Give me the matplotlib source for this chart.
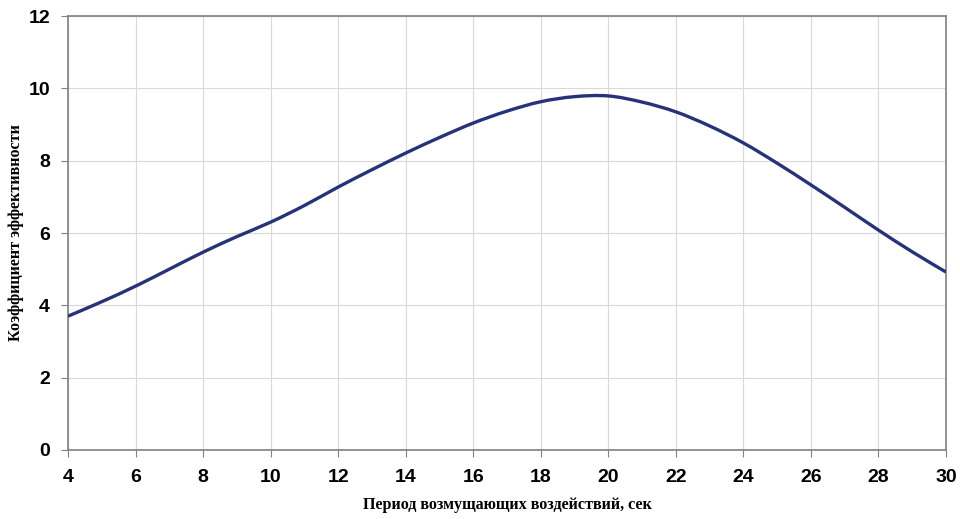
import numpy as np
import matplotlib.pyplot as plt
from matplotlib.path import Path
from matplotlib.patches import PathPatch

# period, s and efficiency coefficient
period = [4, 5, 6, 7, 8, 9, 10, 11, 12, 13, 14, 15, 16, 17,
          18, 19, 20, 21, 22, 23, 24, 25, 26, 27, 28, 29, 30]
coef = [3.70, 4.10, 4.53, 5.00, 5.47, 5.90, 6.30, 6.76, 7.27, 7.75, 8.21, 8.64, 9.04, 9.37,
        9.63, 9.77, 9.79, 9.62, 9.35, 8.96, 8.49, 7.93, 7.33, 6.71, 6.08, 5.48, 4.92]

xticks = list(range(4, 31, 2))
yticks = list(range(0, 13, 2))

fig = plt.figure(figsize=(9.6, 5.19), dpi=100)
ax = fig.add_axes([68/960, 1-450/519, (946-68)/960, (450-16)/519])

# smoothed line like in Excel (Catmull-Rom -> cubic bezier)
x = np.array(period, dtype=float)
y = np.array(coef, dtype=float)
verts = [(x[0], y[0])]
codes = [Path.MOVETO]
n = len(x)
for i in range(n - 1):
    p0 = (x[max(i-1, 0)], y[max(i-1, 0)])
    p1 = (x[i], y[i])
    p2 = (x[i+1], y[i+1])
    p3 = (x[min(i+2, n-1)], y[min(i+2, n-1)])
    c1 = (p1[0] + (p2[0]-p0[0])/6, p1[1] + (p2[1]-p0[1])/6)
    c2 = (p2[0] - (p3[0]-p1[0])/6, p2[1] - (p3[1]-p1[1])/6)
    verts += [c1, c2, p2]
    codes += [Path.CURVE4] * 3
ax.add_patch(PathPatch(Path(verts, codes), fill=False, edgecolor='#283278',
                       lw=2.4, capstyle='butt', zorder=3))

ax.set_xlim(4, 30)
ax.set_ylim(0, 12)
ax.set_xticks(xticks)
ax.set_yticks(yticks)
ax.grid(True, color='#d9d9d9', lw=0.8)
ax.set_axisbelow(True)
for s in ax.spines.values():
    s.set_color('#808080')
    s.set_linewidth(1.2)
ax.tick_params(colors='#808080', length=5, width=0.8, labelcolor='black')
for lab in ax.get_xticklabels() + ax.get_yticklabels():
    lab.set_fontfamily('Liberation Sans')
    lab.set_fontweight('bold')
    lab.set_fontsize(14)
ax.tick_params(axis='x', pad=9)
ax.tick_params(axis='y', pad=8)

ax.set_xlabel('Период возмущающих воздействий, сек', fontfamily='Liberation Serif',
              fontweight='bold', fontsize=11.6)
ax.set_ylabel('Коэффициент эффективности', fontfamily='Liberation Serif',
              fontweight='bold', fontsize=11.6)
ax.xaxis.set_label_coords(0.5, -47/434)
ax.yaxis.set_label_coords(-44/878, 0.5)

plt.savefig('out.png', dpi=100)
